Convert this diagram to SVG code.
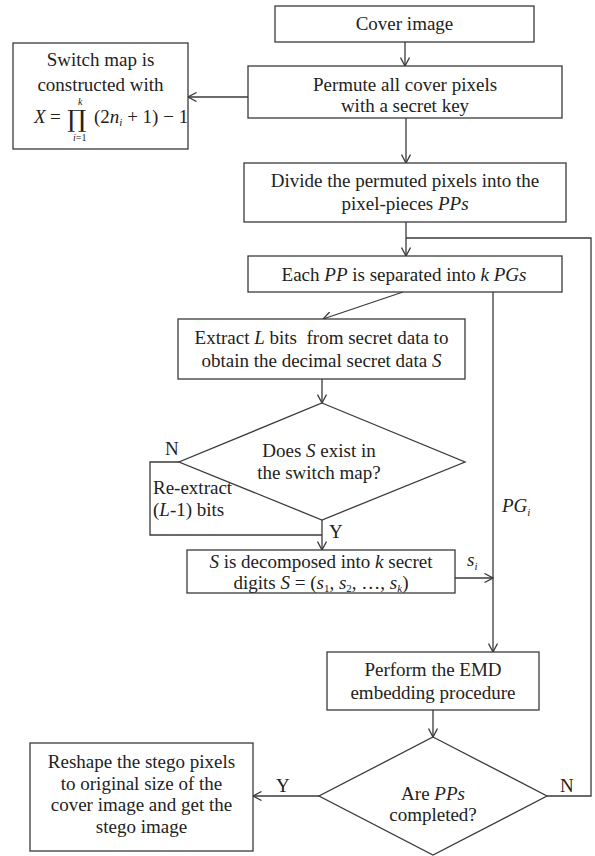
<svg xmlns="http://www.w3.org/2000/svg" width="595" height="856" viewBox="0 0 595 856">
<style>
.box{fill:#fff;stroke:#3a3a3a;stroke-width:1.3}
.ln{fill:none;stroke:#3a3a3a;stroke-width:1.3}
text{font-family:"Liberation Serif","DejaVu Serif",serif;font-size:19px;fill:#222}
.c{text-anchor:middle}
.i{font-style:italic}
.s{font-size:11px}
.big{font-family:"DejaVu Serif",serif;font-size:24px}
.tiny{font-size:10px}
</style>
<defs>
<marker id="arr" viewBox="0 0 10 10" refX="9.5" refY="5" markerWidth="10" markerHeight="10" markerUnits="userSpaceOnUse" orient="auto">
<path d="M1,0.5 L9.5,5 L1,9.5" fill="none" stroke="#3a3a3a" stroke-width="1.3"/>
</marker>
</defs>
<rect width="595" height="856" fill="#fff"/>

<g id="connectors">
<line class="ln" x1="405" y1="42" x2="405" y2="66" marker-end="url(#arr)"/>
<line class="ln" x1="248" y1="97" x2="188" y2="97" marker-end="url(#arr)"/>
<line class="ln" x1="406" y1="118" x2="406" y2="163" marker-end="url(#arr)"/>
<line class="ln" x1="406" y1="222" x2="406" y2="256" marker-end="url(#arr)"/>
<polyline class="ln" points="547,796 591,796 591,238 406,238"/>
<line class="ln" x1="403" y1="292" x2="323" y2="319" marker-end="url(#arr)"/>
<line class="ln" x1="322" y1="379" x2="322" y2="403" marker-end="url(#arr)"/>
<polyline class="ln" points="179,462 150,462 150,535 322,535"/>
<line class="ln" x1="322" y1="520" x2="322" y2="550" marker-end="url(#arr)"/>
<line class="ln" x1="493" y1="292" x2="493" y2="652" marker-end="url(#arr)"/>
<line class="ln" x1="455" y1="578" x2="493" y2="578" marker-end="url(#arr)"/>
<line class="ln" x1="433" y1="710" x2="433" y2="737" marker-end="url(#arr)"/>
<line class="ln" x1="319" y1="796" x2="253" y2="796" marker-end="url(#arr)"/>
<text x="165" y="455">N</text>
<text x="153" y="494">Re-extract</text>
<text x="153" y="516">(<tspan class="i">L</tspan>-1) bits</text>
<text x="329" y="538">Y</text>
<text x="502" y="512" class="i">PG<tspan class="s" dy="4">i</tspan></text>
<text x="467" y="566" class="i">s<tspan class="s" dy="4">i</tspan></text>
<text x="276" y="792">Y</text>
<text x="560" y="792">N</text>
</g>

<g id="cover">
<rect class="box" x="275" y="6" width="259" height="36"/>
<text class="c" x="404.5" y="30">Cover image</text>
</g>

<g id="permute">
<rect class="box" x="248" y="66" width="314" height="52"/>
<text class="c" x="405" y="91">Permute all cover pixels</text>
<text class="c" x="405" y="112">with a secret key</text>
</g>

<g id="switchmap">
<rect class="box" x="13" y="43" width="175" height="106"/>
<text class="c" x="100.5" y="66">Switch map is</text>
<text class="c" x="100.5" y="91">constructed with</text>
<text x="34" y="123" class="i">X</text>
<text x="50" y="123">=</text>
<text x="67" y="127" class="big">∏</text>
<text x="78" y="105" class="tiny i">k</text>
<text x="73" y="141" class="tiny"><tspan class="i">i</tspan>=1</text>
<text x="94" y="123">(2<tspan class="i">n</tspan><tspan class="s i" dy="3">i</tspan><tspan dy="-3"> + 1) − 1</tspan></text>
</g>

<g id="divide">
<rect class="box" x="244" y="163" width="322" height="59"/>
<text class="c" x="405" y="187">Divide the permuted pixels into the</text>
<text class="c" x="405" y="210">pixel-pieces <tspan class="i">PPs</tspan></text>
</g>

<g id="eachpp">
<rect class="box" x="248" y="256" width="314" height="36"/>
<text class="c" x="404" y="281">Each <tspan class="i">PP</tspan> is separated into <tspan class="i">k PGs</tspan></text>
</g>

<g id="extract">
<rect class="box" x="178" y="319" width="287" height="60"/>
<text class="c" x="321.5" y="344" xml:space="preserve">Extract <tspan class="i">L</tspan> bits  from secret data to</text>
<text class="c" x="321.5" y="367">obtain the decimal secret data <tspan class="i">S</tspan></text>
</g>

<g id="exists">
<polygon class="box" points="322,403 465,462 322,520 179,462"/>
<text class="c" x="319" y="457">Does <tspan class="i">S</tspan> exist in</text>
<text class="c" x="319" y="479">the switch map?</text>
</g>

<g id="decompose">
<rect class="box" x="187" y="550" width="268" height="43"/>
<text class="c" x="321" y="568"><tspan class="i">S</tspan>  is decomposed into <tspan class="i">k</tspan> secret</text>
<text class="c" x="321" y="589">digits <tspan class="i">S</tspan> = (<tspan class="i">s</tspan><tspan class="s" dy="3">1</tspan><tspan dy="-3">, </tspan><tspan class="i">s</tspan><tspan class="s" dy="3">2</tspan><tspan dy="-3">, …, </tspan><tspan class="i">s</tspan><tspan class="s i" dy="3">k</tspan><tspan dy="-3">)</tspan></text>
</g>

<g id="emd">
<rect class="box" x="327" y="652" width="212" height="58"/>
<text class="c" x="433" y="676">Perform the EMD</text>
<text class="c" x="433" y="699">embedding procedure</text>
</g>

<g id="completed">
<polygon class="box" points="433,737 547,796 433,855 319,796"/>
<text class="c" x="433" y="800">Are <tspan class="i">PPs</tspan></text>
<text class="c" x="433" y="821">completed?</text>
</g>

<g id="reshape">
<rect class="box" x="30" y="743" width="223" height="108"/>
<text class="c" x="141.5" y="768">Reshape the stego pixels</text>
<text class="c" x="141.5" y="789.5">to original size of the</text>
<text class="c" x="141.5" y="811">cover image and get the</text>
<text class="c" x="141.5" y="832.5">stego image</text>
</g>
</svg>
